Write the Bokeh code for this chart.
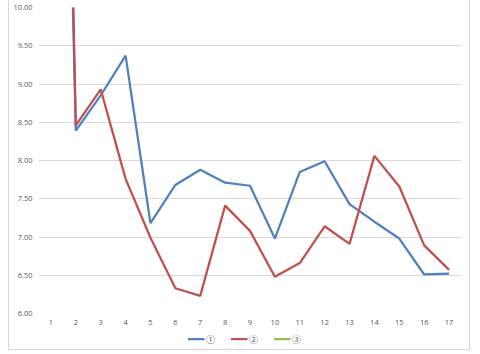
from bokeh.plotting import figure
from bokeh.layouts import column
from bokeh.models import (FixedTicker, NumeralTickFormatter, Legend,
                          LegendItem, Range1d)
from bokeh.embed import file_html
from bokeh.resources import INLINE

x = list(range(1, 18))
s1 = [22.0, 8.39, 8.85, 9.37, 7.18, 7.68, 7.88, 7.71, 7.67, 6.98, 7.85, 7.99, 7.43, 7.20, 6.98, 6.51, 6.52]
s2 = [24.0, 8.46, 8.93, 7.76, 6.99, 6.33, 6.23, 7.41, 7.08, 6.48, 6.66, 7.14, 6.91, 8.06, 7.66, 6.89, 6.57]
s3 = [float("nan")] * 17
names = ["①", "②", "③"]
colors = ["#4F81BD", "#C0504D", "#9BBB59"]
y_ticks = [6.0, 6.5, 7.0, 7.5, 8.0, 8.5, 9.0, 9.5, 10.0]
series = [s1, s2, s3]

p = figure(width=460, height=330, output_backend="svg", toolbar_location=None,
           x_range=Range1d(0.5, 17.5), y_range=Range1d(6.0, 10.0),
           min_border_left=29, min_border_right=8, min_border_top=7, min_border_bottom=17)
p.outline_line_color = None
p.background_fill_color = "white"
p.border_fill_color = "white"

for s, c in zip(series, colors):
    p.line(x, s, line_color=c, line_width=2.25)

font = "Open Sans"
p.xgrid.grid_line_color = None
p.ygrid.grid_line_color = "#D9D9D9"
p.ygrid.grid_line_width = 1

p.yaxis.ticker = FixedTicker(ticks=y_ticks)
p.yaxis.formatter = NumeralTickFormatter(format="0.00")
p.xaxis.ticker = FixedTicker(ticks=x)
for ax in (p.xaxis[0], p.yaxis[0]):
    ax.axis_line_color = None
    ax.major_tick_line_color = None
    ax.minor_tick_line_color = None
    ax.major_tick_out = 0
    ax.major_tick_in = 0
    ax.minor_tick_out = 0
    ax.minor_tick_in = 0
    ax.major_label_text_font = font
    ax.major_label_text_font_size = "7.5px"
    ax.major_label_text_color = "#595959"
p.yaxis.major_label_standoff = 6
p.xaxis.major_label_standoff = 6

# legend strip
lg = figure(width=460, height=17, output_backend="svg", toolbar_location=None,
            x_range=Range1d(0, 1), y_range=Range1d(0, 1), min_border=0,
            margin=(0, 0, 2, 0))
lg.axis.visible = False
lg.grid.visible = False
lg.outline_line_color = None
lg.background_fill_color = "white"
lg.border_fill_color = "white"
items = []
for name, s, c in zip(names, series, colors):
    r = lg.line(x, [float("nan")] * len(s), line_color=c, line_width=2.25)
    items.append(LegendItem(label=name, renderers=[r]))
legend = Legend(items=items, orientation="horizontal", location="center",
                label_text_font="Noto Sans CJK JP", label_text_font_size="9px",
                label_text_color="#595959", glyph_width=17, glyph_height=8,
                label_height=8, label_standoff=2, spacing=4, padding=0, margin=0,
                border_line_color=None, background_fill_alpha=0)
lg.add_layout(legend)

layout = column(p, lg, spacing=0, margin=(0, 0, 0, 9))
layout.styles = {"outline": "1px solid #D9D9D9"}

open("out.html", "w").write(file_html(layout, INLINE))
